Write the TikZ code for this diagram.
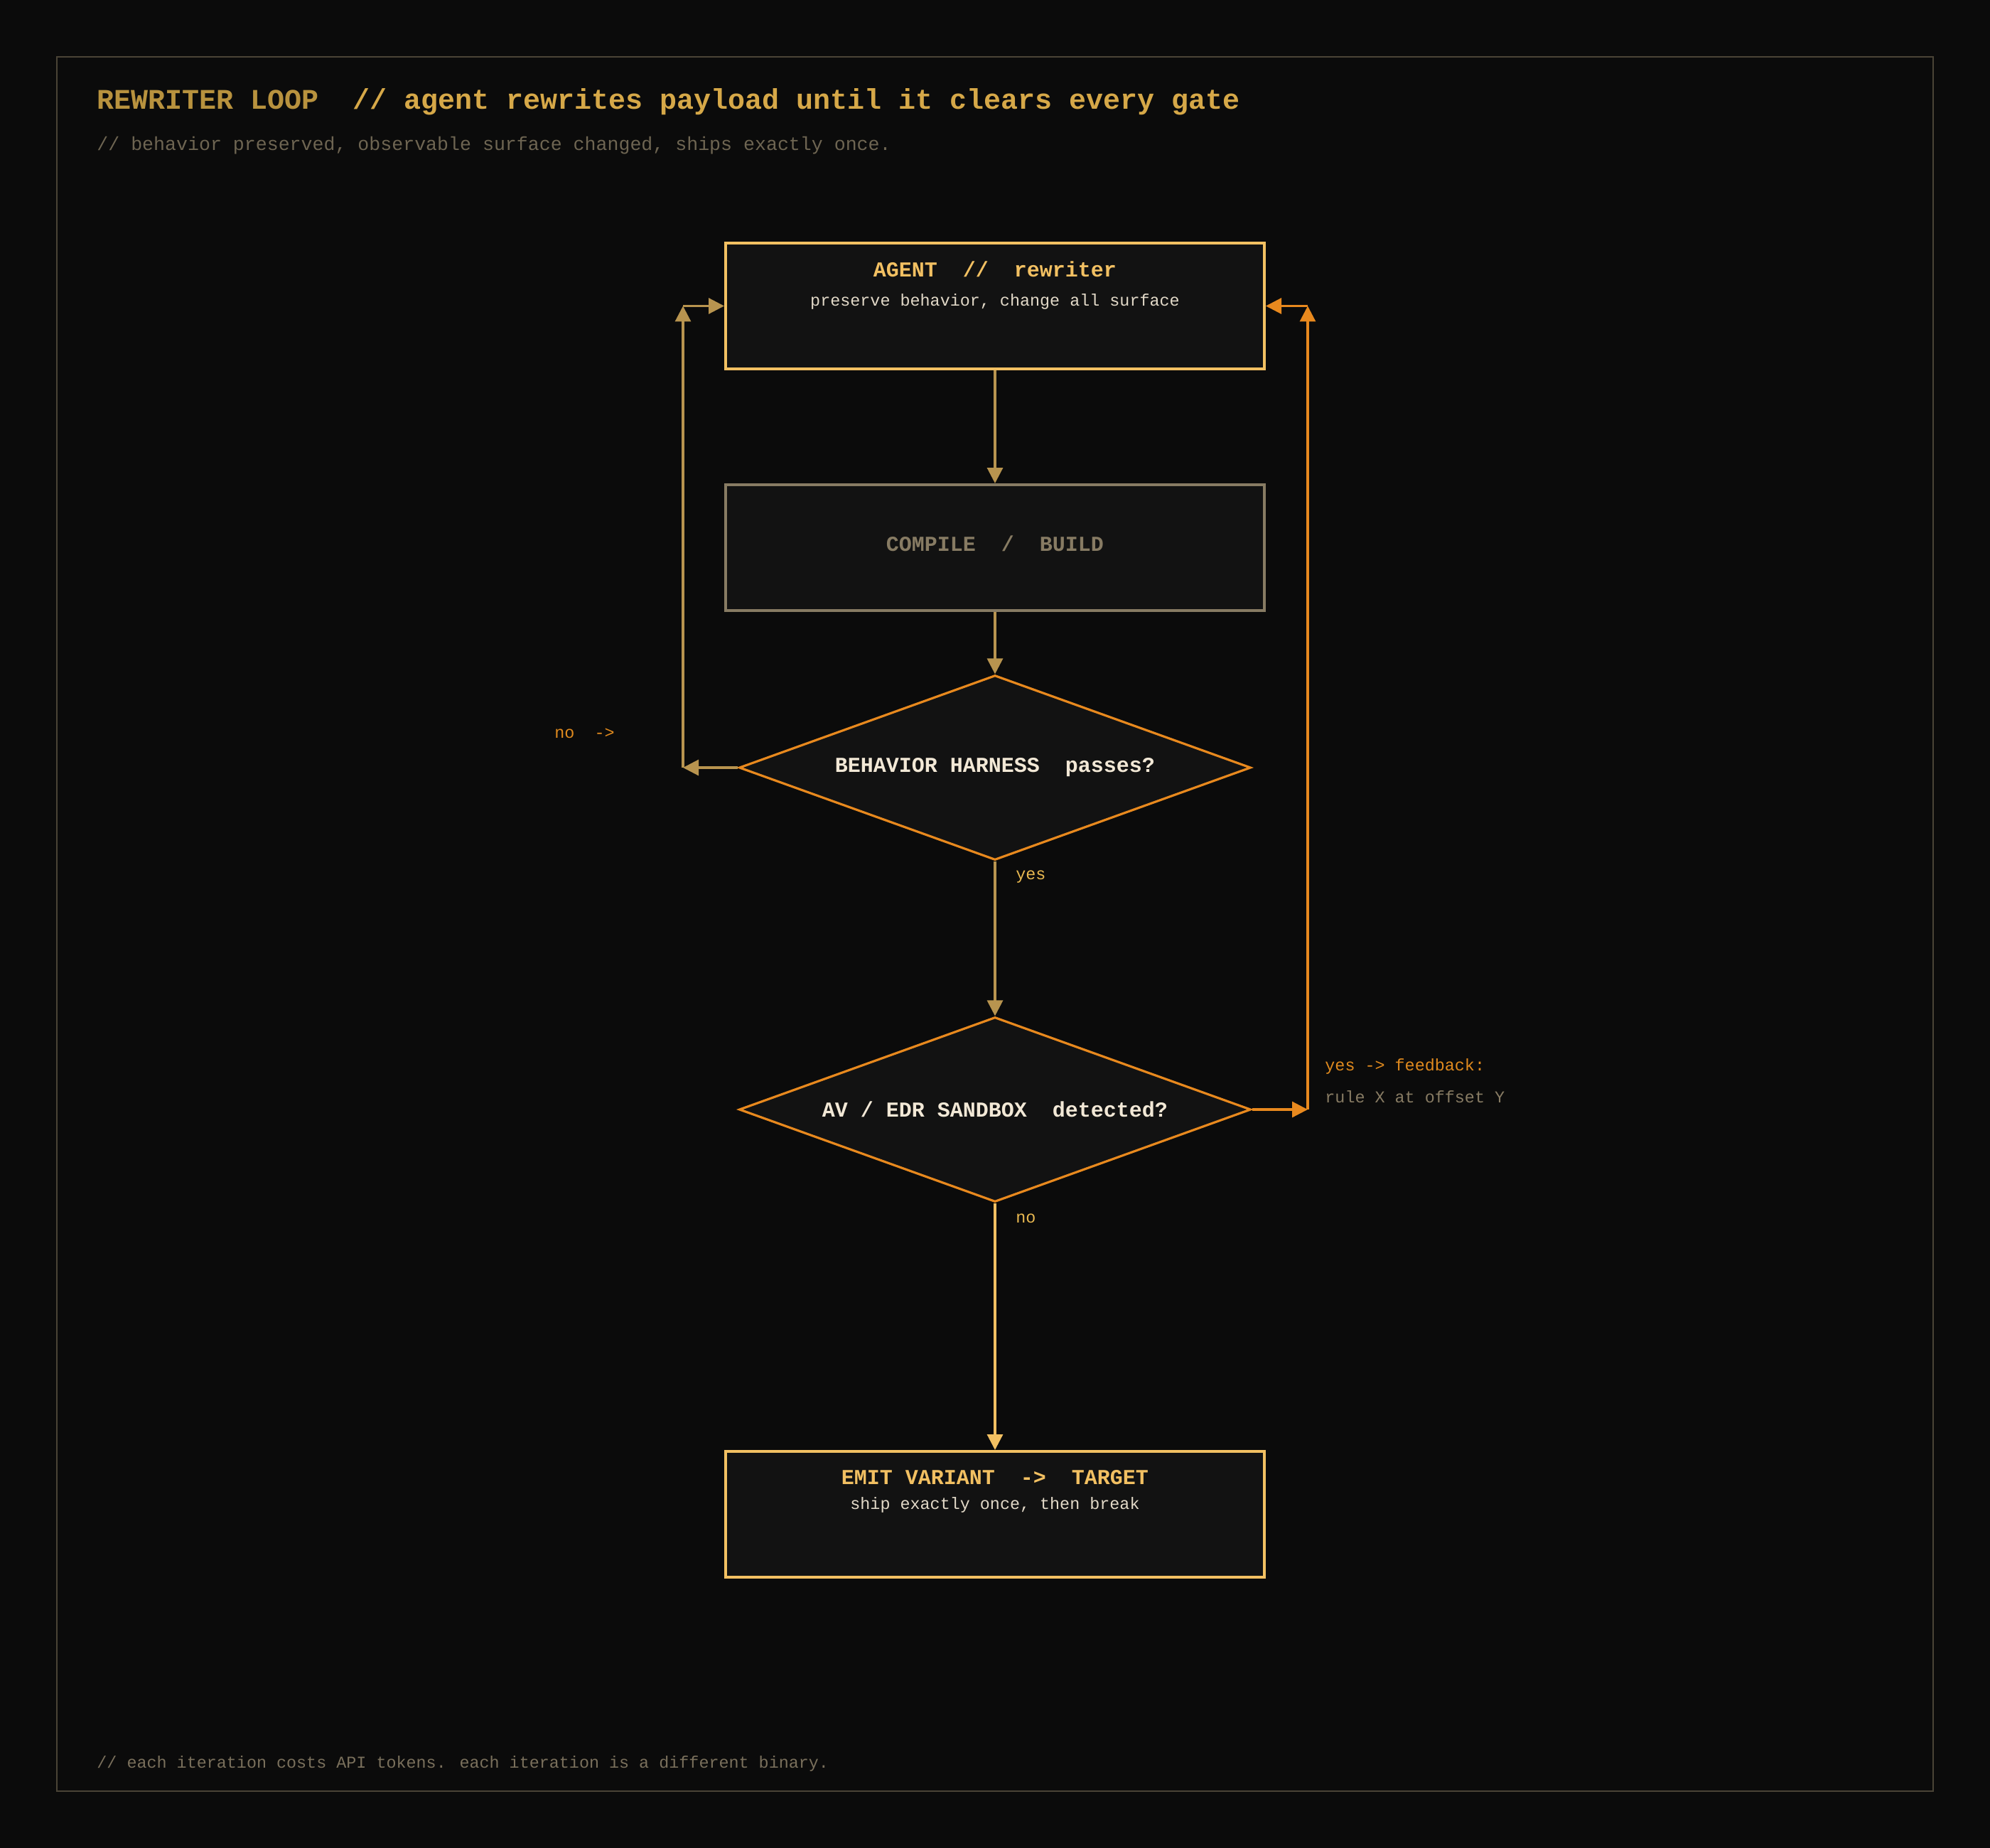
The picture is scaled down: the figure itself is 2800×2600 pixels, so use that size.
\documentclass[tikz,border=0pt]{standalone}
\usepackage{fontspec}
\setmainfont{Liberation Mono}
\usetikzlibrary{arrows.meta,shapes.geometric}
\definecolor{bgc}{HTML}{0B0B0B}
\definecolor{framec}{HTML}{4A4436}
\definecolor{boxfill}{HTML}{121212}
\definecolor{goldc}{HTML}{F2C062}
\definecolor{tanc}{HTML}{B8944F}
\definecolor{greyc}{HTML}{877B63}
\definecolor{orangec}{HTML}{E8891E}
\definecolor{creamc}{HTML}{F2E8D6}
\definecolor{subc}{HTML}{E2D9C8}
\definecolor{titleA}{HTML}{B8923E}
\definecolor{titleB}{HTML}{D6A848}
\definecolor{mutedc}{HTML}{6E6552}
\definecolor{footc}{HTML}{7A705C}
\definecolor{labgold}{HTML}{E8B850}
\definecolor{labor}{HTML}{E08A1E}
\newcommand\fsBig{\fontsize{20}{24}\selectfont}
\newcommand\fsMid{\fontsize{13.3}{16}\selectfont}
\newcommand\fsNode{\fontsize{15}{18}\selectfont}
\newcommand\fsSmall{\fontsize{11.7}{14}\selectfont}
\tikzset{
  boxnode/.style={draw, fill=boxfill, line width=2pt, minimum width=379pt, minimum height=88.5pt, inner sep=0pt},
  gatenode/.style={diamond, draw=orangec, fill=boxfill, line width=1.6pt, minimum width=360pt, minimum height=130pt, inner sep=0pt},
  txt/.style={inner sep=0pt},
  lefttxt/.style={inner sep=0pt, anchor=west},
  conn/.style={line width=1.6pt, -{Triangle[length=11pt,width=11pt]}},
}
\begin{document}
\begin{tikzpicture}[x=0.5pt,y=-0.5pt]
\useasboundingbox (0,0) rectangle (2800,2600);
\fill[bgc] (0,0) rectangle (2800,2600);
\draw[framec, line width=1pt] (80,80) rectangle (2720,2520);

% header / footer
\node[lefttxt] (title) at (136,143) {\fsBig\bfseries\textcolor{titleA}{REWRITER LOOP}~~\textcolor{titleB}{// agent rewrites payload until it clears every gate}};
\node[lefttxt, text=mutedc] (subtitle) at (136,205) {\fsMid // behavior preserved, observable surface changed, ships exactly once.};
\node[lefttxt, text=footc] (footer) at (136,2481) {\fsSmall // each iteration costs API tokens. each iteration is a different binary.};

% boxes
\node[boxnode, draw=goldc] (agent) at (1400,430.5) {};
\node[txt, text=goldc] (agentT) at (1400,379) {\fsNode\bfseries AGENT~~//~~rewriter};
\node[txt, text=subc] (agentS) at (1400,424) {\fsSmall preserve behavior, change all surface};

\node[boxnode, draw=greyc] (compile) at (1400,770.5) {};
\node[txt, text=greyc] (compileT) at (1400,765) {\fsNode\bfseries COMPILE~~/~~BUILD};

\node[gatenode] (d1) at (1400,1080) {};
\node[txt, text=creamc] (d1T) at (1400,1080) {\fsNode\bfseries BEHAVIOR HARNESS~~passes?};

\node[gatenode] (d2) at (1400,1561) {};
\node[txt, text=creamc] (d2T) at (1400,1561) {\fsNode\bfseries AV / EDR SANDBOX~~detected?};

\node[boxnode, draw=goldc] (emit) at (1400,2130.5) {};
\node[txt, text=goldc] (emitT) at (1400,2079) {\fsNode\bfseries EMIT VARIANT~~->~~TARGET};
\node[txt, text=subc] (emitS) at (1400,2117) {\fsSmall ship exactly once, then break};

% main flow
\draw[conn, tanc] (agent.south) -- (compile.north);
\draw[conn, tanc] (compile.south) -- (d1.north);
\draw[conn, tanc] (d1.south) -- (d2.north);
\draw[conn, goldc] (d2.south) -- (emit.north);

% no loop (left)
\coordinate (lb) at (961,1080);
\coordinate (lt) at (961,430.5);
\draw[conn, tanc] (d1.west) -- (lb);
\draw[conn, tanc] (lb) -- (lt);
\draw[conn, tanc] (lt) -- (agent.west);

% feedback loop (right)
\coordinate (rb) at (1840,1561);
\coordinate (rt) at (1840,430.5);
\draw[conn, orangec] (d2.east) -- (rb);
\draw[conn, orangec] (rb) -- (rt);
\draw[conn, orangec] (rt) -- (agent.east);

% labels
\node[lefttxt, text=labor] (nolab) at (780,1032) {\fsSmall no~~->};
\node[lefttxt, text=labgold] (yeslab) at (1429,1234) {\fsSmall yes};
\node[lefttxt, text=labgold] (nolab2) at (1429,1714) {\fsSmall no};
\node[lefttxt, text=labor] (fblab) at (1864,1500) {\fsSmall yes -> feedback:};
\node[lefttxt, text=greyc] (rulelab) at (1864,1543) {\fsSmall rule X at offset Y};
\end{tikzpicture}
\end{document}
